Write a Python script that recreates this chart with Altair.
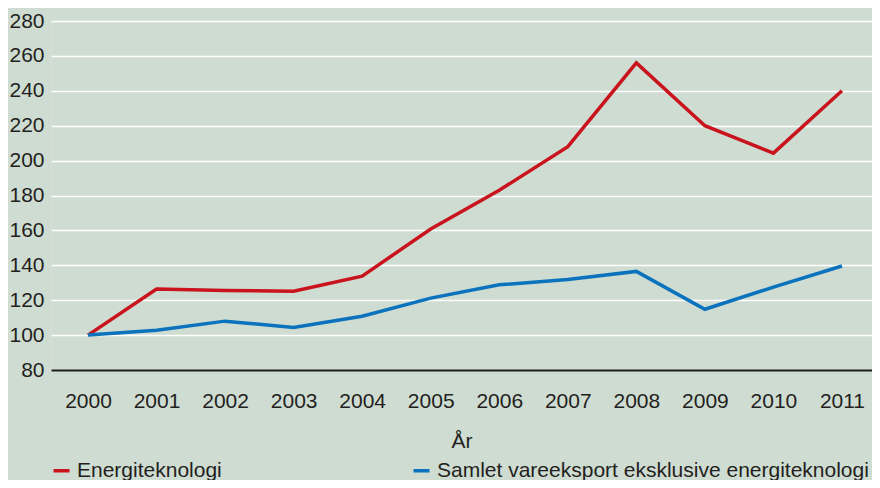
import altair as alt
import pandas as pd

years = ["2000", "2001", "2002", "2003", "2004", "2005", "2006", "2007", "2008", "2009", "2010", "2011"]
energi = [100, 126.4, 125.6, 125.2, 133.8, 160.8, 183.0, 208.0, 256.0, 220.0, 204.3, 240.0]
samlet = [100, 102.8, 108.0, 104.3, 110.8, 121.2, 128.8, 131.8, 136.5, 114.8, 127.5, 139.6]

series_names = ["Energiteknologi", "Samlet vareeksport eksklusive energiteknologi"]
series_colors = ["#c9141e", "#0b73bd"]

rows = []
for y, v in zip(years, energi):
    rows.append({"År": y, "Indeks": v, "Serie": series_names[0]})
for y, v in zip(years, samlet):
    rows.append({"År": y, "Indeks": v, "Serie": series_names[1]})
df = pd.DataFrame(rows)

FONT = "Liberation Sans"
TXT = "#231f20"

chart = alt.Chart(df).mark_line(strokeWidth=3.5, strokeJoin="miter").encode(
    x=alt.X("År:O", sort=years,
            scale=alt.Scale(type="point", padding=0.489, align=0.552),
            axis=alt.Axis(title="År", labelAngle=0, labelFontSize=21, labelColor=TXT,
                          labelFont=FONT, titleFont=FONT, titleFontSize=21,
                          titleFontWeight="normal", titleColor=TXT, titlePadding=19,
                          labelPadding=20, ticks=False, domain=True, domainColor="#1a1a1a",
                          domainWidth=2, grid=False, labelOverlap=False)),
    y=alt.Y("Indeks:Q", scale=alt.Scale(domain=[80, 280], nice=False, zero=False),
            axis=alt.Axis(title=None, values=list(range(80, 281, 20)), labelFontSize=21,
                          labelColor=TXT, labelFont=FONT, labelPadding=7, ticks=False,
                          labelOverlap=False, domain=False, grid=True,
                          gridColor="#ffffff", gridWidth=1.5)),
    color=alt.Color("Serie:N", sort=series_names,
                    scale=alt.Scale(domain=series_names, range=series_colors),
                    legend=alt.Legend(title=None, orient="none", legendX=0, legendY=439,
                                      direction="horizontal", columns=2, columnPadding=184,
                                      symbolType="stroke", symbolSize=256, symbolStrokeWidth=3.5,
                                      labelFontSize=21, labelFont=FONT, labelColor=TXT,
                                      labelOffset=5, labelLimit=600, padding=0)),
).properties(
    width=821, height=349,
    autosize=alt.AutoSizeParams(type="none"),
    padding={"left": 43, "top": 13, "right": 0, "bottom": 110},
    background="#cfdcd2",
).configure_view(stroke=None).configure(font=FONT)

chart.save("out.html", embed_options={"renderer": "svg", "actions": False})
